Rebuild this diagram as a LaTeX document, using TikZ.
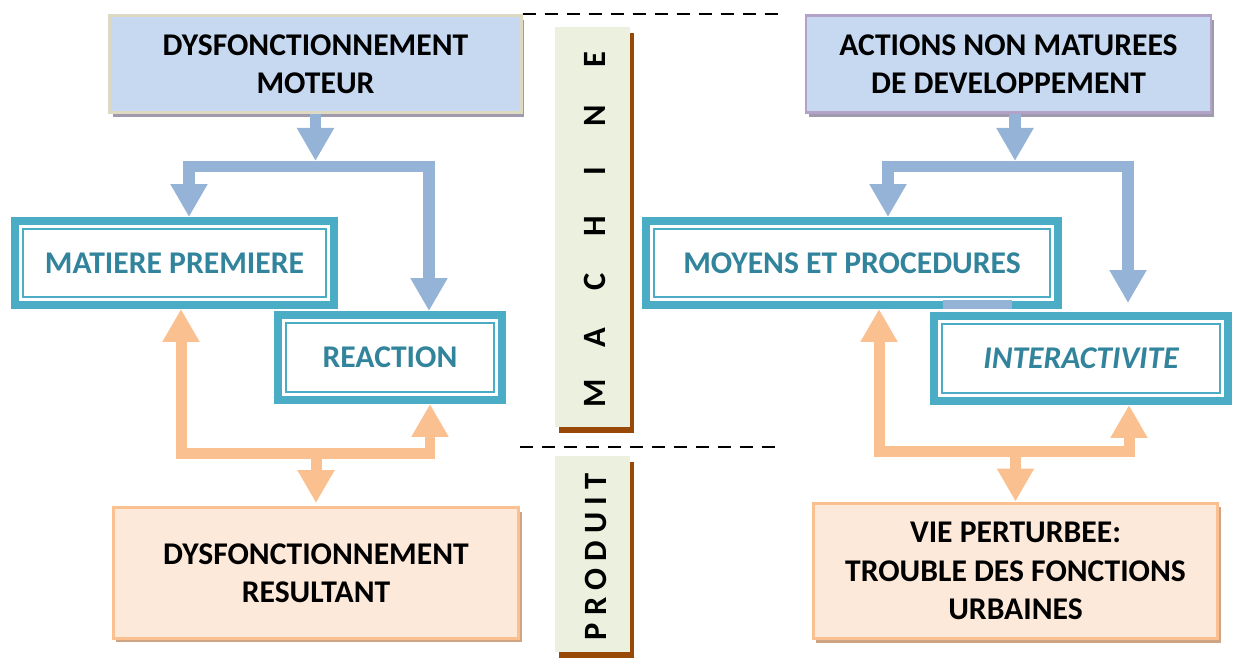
\documentclass[tikz,border=0pt]{standalone}
\usepackage{fontspec}
\setmainfont{Carlito}
\usetikzlibrary{arrows.meta,shadows}

\definecolor{boxblue}{HTML}{C6D9F1}
\definecolor{tanline}{HTML}{DDD9C3}
\definecolor{lilac}{HTML}{B3A2C7}
\definecolor{shadegray}{HTML}{A09AAF}
\definecolor{tealline}{HTML}{4BACC6}
\definecolor{tealtext}{HTML}{31849B}
\definecolor{arrblue}{HTML}{95B3D7}
\definecolor{peach}{HTML}{FAC090}
\definecolor{peachfill}{HTML}{FDE9D9}
\definecolor{peachshade}{HTML}{CFA483}
\definecolor{stripfill}{HTML}{EBF1DE}
\definecolor{stripshade}{HTML}{984807}

\begin{document}
\begin{tikzpicture}[x=0.02cm, y=-0.02cm,
    bigtip/.tip={Triangle[width=0.7cm, length=0.66cm]},
    bigfont/.style={font=\fontsize{18}{21.8}\selectfont\bfseries},
    causebox/.style={bigfont, draw, line width=0.05cm, fill=boxblue, align=center,
        minimum height=1.94cm,
        general shadow={fill=shadegray, shadow xshift=0.06cm, shadow yshift=-0.09cm}},
    tealbox/.style={bigfont, draw=tealline, line width=0.16cm, fill=white, text=tealtext,
        minimum height=1.68cm,
        path picture={\draw[tealline, line width=0.04cm]
            ([shift={(0.15cm,-0.15cm)}]path picture bounding box.north west) rectangle
            ([shift={(-0.15cm,0.15cm)}]path picture bounding box.south east);}},
    effectbox/.style={bigfont, draw=peach, line width=0.06cm, fill=peachfill, align=center,
        general shadow={fill=peachshade, shadow xshift=0.06cm, shadow yshift=-0.08cm}},
    strip/.style={fill=stripfill, minimum width=1.5cm,
        general shadow={fill=stripshade, shadow xshift=0.07cm, shadow yshift=-0.12cm}},
    stripletter/.style={rotate=90, font=\fontsize{18.5}{18.5}\selectfont\bfseries},
    sepline/.style={line width=0.04cm, dash pattern=on 0.26cm off 0.18cm},
    barrow/.style={draw=arrblue, line width=0.23cm, -bigtip},
    bfork/.style={draw=arrblue, line width=0.23cm, bigtip-bigtip},
    oarrow/.style={draw=peach, line width=0.22cm, -bigtip},
    ofork/.style={draw=peach, line width=0.22cm, bigtip-bigtip}]

    \useasboundingbox (0,0) rectangle (1233,661);

    % separators and side strips
    \node[causebox, draw=tanline, minimum width=8.24cm] (moteur) at (315.5,64) {DYSFONCTIONNEMENT\\MOTEUR};
    \draw[sepline] (moteur.north east) -- ++(258,0);
    \draw[sepline] (520,447) -- (778,447);

    \node[strip, minimum height=8cm] (machine) at (592.5,227) {};
    \node[strip, minimum height=3.92cm] (produit) at (592.5,554) {};
    \foreach \c [count=\i] in {M,A,C,H,I,N,E}
        \node[stripletter] (m\i) at (595,{393-55.5*(\i-1)}) {\c};
    \node[stripletter] (prod) at (596,557) {\addfontfeatures{LetterSpace=22}PRODUIT};

    % boxes
    \node[causebox, draw=lilac, minimum width=8.10cm] (actions) at (1008.5,64) {ACTIONS NON MATUREES\\DE DEVELOPPEMENT};
    \node[tealbox, minimum width=6.38cm] (matiere) at (174.5,263) {MATIERE PREMIERE};
    \node[tealbox, minimum width=4.48cm, minimum height=1.70cm] (reaction) at (390,357.5) {REACTION};
    \node[tealbox, minimum width=8.24cm] (moyens) at (852,263) {MOYENS ET PROCEDURES};
    \node[tealbox, minimum width=5.88cm, minimum height=1.70cm] (inter) at (1081,358.5) {\itshape INTERACTIVITE};
    \node[effectbox, minimum width=8.12cm, minimum height=2.62cm] (resultant) at (316,573) {DYSFONCTIONNEMENT\\RESULTANT};
    \node[effectbox, minimum width=8.10cm, minimum height=2.72cm] (vie) at (1015.5,571) {VIE PERTURBEE:\\TROUBLE DES FONCTIONS\\URBAINES};
    \fill[arrblue] (943,300) rectangle (1012,309);

    % left side arrows
    \coordinate (lfork) at (315.5,161);
    \coordinate (lbar) at (315.5,166.5);
    \draw[barrow] (moteur.south) -- (lfork);
    \draw[bfork] ([xshift=0.29cm]matiere.north) |- (lbar) -| ([xshift=0.78cm]reaction.north);
    \coordinate (lbot) at (316,454);
    \draw[ofork] ([xshift=0.13cm]matiere.south) |- (lbot) -| ([xshift=0.8cm]reaction.south);
    \draw[oarrow, shorten >=0.06cm] (lbot) -- (resultant.north);

    % right side arrows
    \coordinate (rfork) at (1015,161);
    \coordinate (rbar) at (1015,166.5);
    \draw[barrow] (actions.south -| rfork) -- (rfork);
    \draw[bfork, shorten >=0.18cm] ([xshift=0.72cm]moyens.north) |- (rbar) -| ([xshift=0.94cm]inter.north);
    \coordinate (rbot) at (1015.5,452);
    \draw[ofork] ([xshift=0.54cm]moyens.south) |- (rbot) -| ([xshift=0.96cm]inter.south);
    \draw[oarrow] (rbot) -- (vie.north);
\end{tikzpicture}
\end{document}
